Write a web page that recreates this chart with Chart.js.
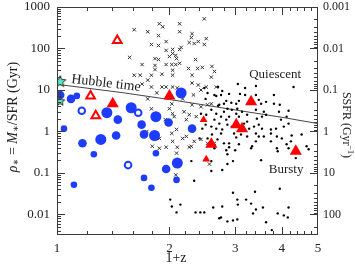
<!DOCTYPE html>
<html>
<head>
<meta charset="utf-8">
<script src="https://cdn.jsdelivr.net/npm/chart.js@4.4.1/dist/chart.umd.min.js"></script>
<style>
  html, body { margin: 0; padding: 0; background: #fff; }
</style>
</head>
<body>
<canvas id="chart" width="355" height="268"></canvas>
<script>
// x = 1+z, y = rho* = M*/SFR in Gyr, points as [x, y]
const blueLarge = [[1.36,2.83],[1.58,3.73],[1.31,0.645],[1.825,0.80],[2.10,0.173],[2.15,8.5],[1.84,2.28]];
const blueMedium = [[1.02,7.6],[1.09,6.1],[1.455,1.93],[1.685,1.46],[1.44,0.80],[1.71,0.85],[1.17,0.52],
  [1.96,0.125],[2.30,1.17],[1.99,1.64]];
const blueSmall = [[1.13,7.2],[1.044,1.17],[1.255,0.283],[1.11,0.052],[1.84,0.30],[1.71,0.076],[2.09,0.068],[1.79,0.044]];
const blueOpen = [[1.165,3.16],[1.65,2.83],[1.55,0.155]];

const redLarge = [[1.41,4.64],[2.00,7.2],[3.31,5.18],[3.02,1.46],[3.13,1.17],[2.59,0.49],[4.36,0.334]];
const redSmall = [[2.47,1.93],[2.51,0.215]];
const redOpen = [[1.45,155],[1.23,7.2],[1.27,2.41]];

const starsBig = [[1.02,16.4]];
const starsSmall = [[1.02,5.47]];

const crosses = [[2.48,518],[1.88,394],[1.92,334],[2.13,394],[1.61,283],[1.75,253],[1.87,204],[2.13,253],
  [2.30,227],[2.29,183],[2.51,173],[1.79,125],[1.87,118],[1.96,147],[2.26,139],[2.33,132],[2.39,147],
  [2.48,125],[2.15,106],[2.13,95],[2.04,95],[1.96,90],[2.04,76],[2.00,64],[2.08,68],[1.565,61],[1.83,57],
  [1.87,54],[2.09,57],[2.35,54],[1.83,39],[1.96,41],[2.03,41],[2.08,41],[2.13,44],[2.60,37],[2.25,33],
  [2.38,33],[2.45,35],[2.64,28],[1.83,31],[2.04,30],[1.69,41],[1.61,22.7],[1.67,22.7],[1.79,22.7],
  [1.91,24],[2.04,22.7],[2.30,22.7],[2.59,20.4],[1.75,17.3],[1.69,13.9],[1.79,11.8],[1.91,11.8],
  [1.96,11.8],[2.04,11.8],[2.10,11.2],[2.30,14.7],[2.39,13.2],[2.51,11.8],[2.67,11.8],[2.43,10.0],
  [1.85,8.5],[1.75,6.1],[2.32,7.6],[2.17,6.1],[2.03,4.64],[2.00,3.53],[1.79,3.53],[2.30,4.4],[2.43,3.94],
  [2.53,4.4],[2.59,4.64],[2.19,2.99],[2.04,2.68],[2.06,2.28],[2.26,2.54],[2.36,2.28],[1.95,1.93],
  [2.22,1.93],[1.74,1.0],[1.88,0.68],[2.03,0.90],[2.09,1.12],[2.04,0.578],[2.17,0.68],[2.33,0.578],
  [1.80,0.44],[1.88,0.394],[1.96,0.417],[2.10,0.417],[2.26,0.42],[2.09,0.30],[2.56,0.164],[2.08,0.090],
  [2.22,0.76],[2.43,0.645],[2.53,0.518],[2.64,0.518],[2.29,0.44]];

const dots = [[3.05,13.9],[3.19,11.2],[3.41,12.5],[2.89,8.04],[3.09,8.04],[3.19,7.6],[3.41,7.6],[2.84,5.47],
  [2.93,4.91],[3.02,4.64],[3.07,5.47],[3.81,7.6],[4.30,11.8],[3.47,5.78],[2.77,9.47],[2.48,11.2],[2.53,8.49],
  [2.50,6.10],[2.67,7.19],[2.80,4.64],[2.70,4.16],[3.63,5.18],[2.70,11.8],[2.64,7.6],[2.75,7.6],
  [3.95,4.40],[3.52,4.64],[2.86,3.53],[2.94,3.34],[3.04,3.53],[3.13,2.99],[3.02,2.68],[2.89,2.28],
  [2.84,1.93],[3.07,2.28],[3.23,2.54],[3.41,3.34],[3.58,2.99],[3.63,2.54],[3.93,2.99],[4.17,3.16],
  [3.81,4.64],[4.12,2.28],[3.98,1.93],[3.54,2.28],[3.43,2.04],[3.23,1.73],[2.75,2.28],[2.67,2.68],
  [2.59,3.34],[2.64,1.93],[2.80,2.99],[2.72,4.40],[2.51,2.54],[2.43,2.68],
  [2.86,1.46],[2.94,1.31],[3.17,1.55],[3.27,1.17],[3.37,1.31],[3.47,1.46],[3.54,1.17],[3.74,1.12],
  [3.86,1.17],[4.05,1.31],[4.17,1.55],[2.98,0.896],[3.11,0.848],[3.23,0.76],[3.41,0.896],[3.58,0.76],
  [3.74,0.578],[4.00,0.681],[4.23,0.578],[2.89,0.518],[3.07,0.491],[3.33,0.44],[4.66,0.44],[4.72,0.373],
  [2.72,1.55],[2.77,1.12],[2.59,1.31],[2.50,1.46],[2.45,1.17],[2.67,1.17],[2.75,0.896],[2.60,0.848],
  [2.69,0.645],[2.80,0.518],[2.53,0.681],[2.64,0.394],[2.41,0.681],[3.02,0.720],[3.47,0.76],[3.74,0.896],
  [3.88,0.76],[4.25,0.803],[4.52,0.848],[2.89,0.417],[3.41,0.578],[3.88,0.394],[4.12,0.491],[2.84,0.354],
  [3.00,0.354],[3.31,0.394],[3.90,0.334],[4.17,0.394],
  [2.86,0.283],[2.96,0.193],[3.52,0.204],[2.86,0.164],[4.36,0.228],[2.29,0.193],[2.59,0.193],[2.59,0.112],
  [2.77,0.118],[2.33,0.0647],[2.14,0.0173],[2.96,0.0334],[3.39,0.0353],[3.95,0.0417],[3.04,0.0228],
  [3.21,0.0228],[3.05,0.0173],[3.41,0.0132],[3.56,0.0147],[3.35,0.0106],[3.90,0.0106],[4.05,0.0095],
  [4.15,0.0085],[4.17,0.0147],[2.86,0.0068],[2.96,0.0072],[3.04,0.0076],[3.63,0.0065],[3.76,0.0042],
  [2.09,0.0112],[2.35,0.0112],[2.42,0.0112],[2.48,0.0112],[2.62,0.0147],[2.77,0.0155],[2.72,0.0081],
  [2.01,0.0228],[2.03,0.0155],[3.31,0.0183],[2.75,0.0085]];

// Hubble time (age of the universe) vs 1+z
const hubbleX = [1, 1.5, 2, 2.5, 3, 4, 5];
const hubbleAge = [13.7, 8.6, 5.9, 4.3, 3.3, 2.2, 1.55];

// tick labels
const xTicks = [1, 2, 3, 4, 5];
const yTicks = [0.01, 0.1, 1, 10, 100, 1000];
const ssfrTicks = [0.001, 0.01, 0.1, 1, 10, 100];

const SERIF = '"Liberation Serif", "DejaVu Serif", serif';
const BLUE = '#1e3cff';
const RED = '#ff0000';

function pts(arr) { return arr.map(p => ({x: p[0], y: p[1]})); }

// filled five pointed star used as point image
function starImage(r) {
  const c = document.createElement('canvas');
  const s = Math.ceil(r * 2 + 4);
  c.width = s; c.height = s;
  const g = c.getContext('2d');
  g.translate(s / 2, s / 2 + r * 0.1);
  g.beginPath();
  for (let i = 0; i < 10; i++) {
    const a = -Math.PI / 2 + i * Math.PI / 5;
    const rr = i % 2 ? r * 0.45 : r;
    g.lineTo(Math.cos(a) * rr, Math.sin(a) * rr);
  }
  g.closePath();
  g.fillStyle = '#55e8c8';
  g.fill();
  g.strokeStyle = '#2a2a2a';
  g.lineWidth = 1;
  g.stroke();
  return c;
}

// no extra room for half labels at the axis ends
function noPad(s) {
  s.paddingTop = 0; s.paddingBottom = 0; s.paddingLeft = 0; s.paddingRight = 0;
}

// inward tick marks on all four sides + box
const frame = {
  id: 'frame',
  afterDatasetsDraw(chart) {
    const {ctx, chartArea: a, scales} = chart;
    const sx = scales.x, sy = scales.y, s2 = scales.y2;
    ctx.save();
    ctx.strokeStyle = '#3a3a3a';
    ctx.lineWidth = 1;
    ctx.beginPath();
    const xMinor = [1.2,1.4,1.6,1.8,2.2,2.4,2.6,2.8,3.2,3.4,3.6,3.8,4.2,4.4,4.6,4.8];
    const xMajor = [2, 3, 4];
    xMinor.concat(xMajor).forEach(v => {
      const len = xMajor.includes(v) ? 8 : 4;
      const p = Math.round(sx.getPixelForValue(v)) + 0.5;
      ctx.moveTo(p, a.bottom); ctx.lineTo(p, a.bottom - len);
      ctx.moveTo(p, a.top); ctx.lineTo(p, a.top + len);
    });
    for (let e = -3; e <= 3; e++) {
      for (let m = 1; m <= 9; m++) {
        const v = m * Math.pow(10, e);
        const len = m === 1 ? 8 : 4;
        if (v >= sy.min && v <= sy.max) {
          const p = Math.round(sy.getPixelForValue(v)) + 0.5;
          ctx.moveTo(a.left, p); ctx.lineTo(a.left + len, p);
        }
        if (v >= s2.min && v <= s2.max) {
          const p = Math.round(s2.getPixelForValue(v)) + 0.5;
          ctx.moveTo(a.right, p); ctx.lineTo(a.right - len, p);
        }
      }
    }
    ctx.stroke();
    ctx.strokeRect(a.left + 0.5, a.top + 0.5, a.right - a.left - 1, a.bottom - a.top - 1);
    ctx.restore();
  }
};

// axis titles and text annotations
const labels = {
  id: 'labels',
  afterDraw(chart) {
    const {ctx, scales} = chart;
    const sx = scales.x, sy = scales.y;
    ctx.save();
    ctx.fillStyle = '#222';
    ctx.textBaseline = 'middle';

    // left title: rho_* = M_*/SFR (Gyr)
    const parts = [
      {t: 'ρ', f: 'italic 14px ' + SERIF, dy: 0},
      {t: '∗', f: '10px ' + SERIF, dy: 3},
      {t: ' = ', f: '14px ' + SERIF, dy: 0},
      {t: 'M', f: 'italic 14px ' + SERIF, dy: 0},
      {t: '∗', f: '10px ' + SERIF, dy: 3},
      {t: '/SFR (Gyr)', f: '14px ' + SERIF, dy: 0}
    ];
    let w = 0;
    parts.forEach(p => { ctx.font = p.f; p.w = ctx.measureText(p.t).width; w += p.w; });
    ctx.save();
    ctx.translate(13, 117);
    ctx.rotate(-Math.PI / 2);
    let cx = -w / 2;
    ctx.textAlign = 'left';
    parts.forEach(p => { ctx.font = p.f; ctx.fillText(p.t, cx, p.dy); cx += p.w; });
    ctx.restore();

    // right title: SSFR (Gyr^-1)
    const rp = [
      {t: 'SSFR (Gyr', f: '12px ' + SERIF, dy: 0},
      {t: '−1', f: '8px ' + SERIF, dy: -4},
      {t: ')', f: '12px ' + SERIF, dy: 0}
    ];
    w = 0;
    rp.forEach(p => { ctx.font = p.f; p.w = ctx.measureText(p.t).width; w += p.w; });
    ctx.save();
    ctx.translate(346, 125);
    ctx.rotate(Math.PI / 2);
    cx = -w / 2;
    rp.forEach(p => { ctx.font = p.f; ctx.fillText(p.t, cx, p.dy); cx += p.w; });
    ctx.restore();

    // x title
    ctx.font = '14px ' + SERIF;
    ctx.textAlign = 'center';
    ctx.fillText('1+z', 176, 258);

    // region labels
    ctx.font = '13px ' + SERIF;
    ctx.textAlign = 'left';
    ctx.fillText('Quiescent', sx.getPixelForValue(3.27), sy.getPixelForValue(24));
    ctx.fillText('Bursty', sx.getPixelForValue(3.69), sy.getPixelForValue(0.12));

    // Hubble time label along the line, sitting just above it
    const x0 = sx.getPixelForValue(hubbleX[0]), y0 = sy.getPixelForValue(hubbleAge[0]);
    const x1 = sx.getPixelForValue(hubbleX[2]), y1 = sy.getPixelForValue(hubbleAge[2]);
    const ang = Math.atan2(y1 - y0, x1 - x0) * 0.85;
    ctx.save();
    ctx.translate(sx.getPixelForValue(1.09), sy.getPixelForValue(14.8));
    ctx.rotate(ang);
    ctx.font = '14px ' + SERIF;
    ctx.textBaseline = 'alphabetic';
    ctx.fillText('Hubble time', 0, 0);
    ctx.restore();

    ctx.restore();
  }
};

const tickFont = {family: SERIF, size: 13};

new Chart(document.getElementById('chart'), {
  type: 'scatter',
  data: {
    datasets: [
      {data: pts(starsBig), pointStyle: starImage(6), order: 1},
      {data: pts(starsSmall), pointStyle: starImage(4.8), order: 1},
      {data: pts(redOpen), pointStyle: 'triangle', pointRadius: 5, backgroundColor: '#fff',
        borderColor: RED, borderWidth: 2, order: 2},
      {data: pts(redLarge), pointStyle: 'triangle', pointRadius: 7, backgroundColor: RED,
        borderColor: RED, borderWidth: 0, order: 2},
      {data: pts(redSmall), pointStyle: 'triangle', pointRadius: 4.5, backgroundColor: RED,
        borderColor: RED, borderWidth: 0, order: 2},
      {data: pts(blueOpen), pointRadius: 3.3, backgroundColor: '#fff', borderColor: BLUE, borderWidth: 2, order: 3},
      {data: pts(blueLarge), pointRadius: 5.5, backgroundColor: BLUE, borderWidth: 0, order: 4},
      {data: pts(blueMedium), pointRadius: 4.3, backgroundColor: BLUE, borderWidth: 0, order: 4},
      {data: pts(blueSmall), pointRadius: 3.3, backgroundColor: BLUE, borderWidth: 0, order: 4},
      {data: pts(crosses), pointStyle: 'crossRot', pointRadius: 2.4, borderColor: '#333',
        borderWidth: 1, order: 5},
      {data: pts(dots), pointRadius: 1.2, backgroundColor: '#000', borderWidth: 0, order: 6},
      {data: hubbleX.map((v, i) => ({x: v, y: hubbleAge[i]})), showLine: true, pointRadius: 0,
        borderColor: '#444', borderWidth: 1, order: 7}
    ]
  },
  options: {
    responsive: false,
    animation: false,
    layout: {padding: {top: 5, left: 0, right: 0, bottom: 0}},
    plugins: {legend: {display: false}, tooltip: {enabled: false}},
    scales: {
      x: {
        type: 'logarithmic', min: 1, max: 5, position: 'bottom',
        grid: {display: false, drawTicks: false}, border: {display: false},
        afterBuildTicks: s => { s.ticks = xTicks.map(v => ({value: v})); },
        afterFit: s => { s.height = 33; noPad(s); },
        ticks: {font: tickFont, color: '#222', padding: 6, maxRotation: 0, autoSkip: false,
          callback: v => String(v)}
      },
      y: {
        type: 'logarithmic', min: 0.0032, max: 1000, position: 'left',
        grid: {display: false, drawTicks: false}, border: {display: false},
        afterBuildTicks: s => { s.ticks = yTicks.map(v => ({value: v})); },
        afterFit: s => { s.width = 57; noPad(s); },
        ticks: {font: tickFont, color: '#222', padding: 7, autoSkip: false,
          callback: v => String(v)}
      },
      y2: {
        type: 'logarithmic', min: 0.001, max: 312.5, reverse: true, position: 'right',
        grid: {display: false, drawTicks: false}, border: {display: false},
        afterBuildTicks: s => { s.ticks = ssfrTicks.map(v => ({value: v})); },
        afterFit: s => { s.width = 37; noPad(s); },
        ticks: {font: {family: SERIF, size: 12}, color: '#222', padding: 5, autoSkip: false,
          callback: v => String(v)}
      }
    }
  },
  plugins: [frame, labels]
});
</script>
</body>
</html>
